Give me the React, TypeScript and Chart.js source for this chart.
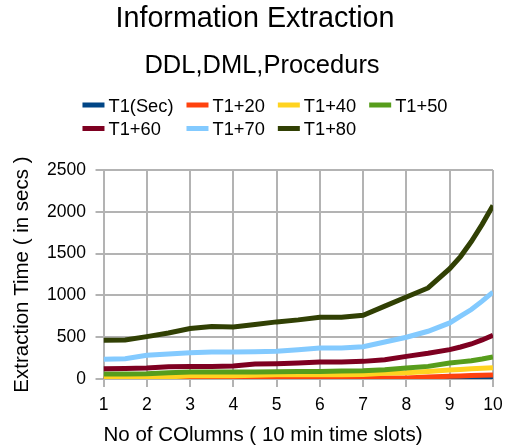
import React, { useEffect, useRef } from "react";
import { Chart, registerables } from "chart.js";

Chart.register(...registerables);

const chartTitle = "Information Extraction";
const chartSubtitle = "DDL,DML,Procedurs";
const xAxisTitle = "No of COlumns ( 10 min time slots)";
const yAxisTitle = "Extraction Time ( in secs )";

const timeSlots = [1, 1.5, 2, 2.5, 3, 3.5, 4, 4.5, 5, 5.5, 6, 6.5, 7, 7.5, 8, 8.5, 9, 9.25, 9.5, 9.75, 10];

const seriesNames = ["T1(Sec)", "T1+20", "T1+40", "T1+50", "T1+60", "T1+70", "T1+80"];
const seriesColors = ["#004586", "#ff420e", "#ffd320", "#579d1c", "#7e0021", "#83caff", "#314004"];

const t1Sec = [0, 0, 0, 0, 0, 0, 0, 0, 0, 0, 0, 0, 0, 0, 1, 1, 2, 2, 2, 3, 3];
const t1Plus20 = [2, 2, 2, 2, 10, 10, 10, 10, 12, 12, 12, 12, 12, 12, 14, 24, 34, 38, 42, 46, 50];
const t1Plus40 = [24, 24, 24, 26, 40, 40, 40, 46, 52, 52, 52, 52, 56, 70, 76, 92, 108, 116, 124, 130, 136];
const t1Plus50 = [60, 60, 64, 76, 84, 84, 84, 86, 88, 90, 92, 96, 100, 112, 132, 152, 192, 206, 220, 240, 266];
const t1Plus60 = [124, 128, 132, 148, 152, 152, 156, 180, 184, 192, 204, 204, 212, 232, 272, 308, 352, 384, 420, 468, 524];
const t1Plus70 = [236, 244, 284, 300, 316, 324, 324, 328, 332, 352, 372, 372, 388, 444, 500, 572, 672, 752, 832, 932, 1040];
const t1Plus80 = [464, 468, 508, 552, 604, 628, 624, 652, 684, 708, 740, 740, 764, 872, 982, 1090, 1320, 1465, 1645, 1850, 2075];

const seriesValues = [t1Sec, t1Plus20, t1Plus40, t1Plus50, t1Plus60, t1Plus70, t1Plus80];

const yTicksMax = 2500;
const yTickStep = 500;

const GRID = "#b3b3b3";
const FONT = "'Liberation Sans', Arial, Helvetica, sans-serif";

const headerPlugin = {
  id: "headerLegend",
  afterDraw(chart: any) {
    const ctx = chart.ctx as CanvasRenderingContext2D;
    const W = chart.width;
    ctx.save();
    ctx.fillStyle = "#000";
    ctx.textBaseline = "middle";
    ctx.textAlign = "center";
    ctx.font = `28.7px ${FONT}`;
    ctx.fillText(chartTitle, W / 2, 19.5);
    ctx.font = `25.5px ${FONT}`;
    ctx.fillText(chartSubtitle, W / 2 + 7, 65.7);

    // legend in a 4-column grid
    ctx.font = `18.3px ${FONT}`;
    const datasets = chart.data.datasets;
    const cols = 4;
    const boxW = 22;
    const boxH = 5;
    const gap = 4;
    const colGap = 13;
    const colW: number[] = [];
    for (let c = 0; c < cols; c++) {
      let m = 0;
      for (let i = c; i < datasets.length; i += cols) {
        m = Math.max(m, ctx.measureText(datasets[i].label).width);
      }
      colW.push(boxW + gap + m);
    }
    const total = colW.reduce((a, b) => a + b, 0) + colGap * (cols - 1);
    const startX = W / 2 + 10 - total / 2;
    const rowY = [106.5, 130];
    ctx.textAlign = "left";
    datasets.forEach((ds: any, i: number) => {
      const r = Math.floor(i / cols);
      const c = i % cols;
      let x = startX;
      for (let k = 0; k < c; k++) x += colW[k] + colGap;
      const y = rowY[r];
      ctx.fillStyle = ds.borderColor;
      ctx.fillRect(x, y - 1.5 - boxH / 2, boxW, boxH);
      ctx.fillStyle = "#000";
      ctx.fillText(ds.label, x + boxW + gap, y);
    });
    ctx.restore();
  },
};

export default function App() {
  const canvasRef = useRef<HTMLCanvasElement | null>(null);

  useEffect(() => {
    if (!canvasRef.current) return;
    Chart.defaults.font.family = FONT;
    const datasets = seriesNames.map((name, i) => ({
      label: name,
      data: timeSlots.map((x, j) => ({ x, y: seriesValues[i][j] })),
      borderColor: seriesColors[i],
      backgroundColor: seriesColors[i],
      borderWidth: 5,
      pointRadius: 0,
      tension: 0,
      fill: false,
      order: seriesNames.length - i,
    }));
    const chart = new Chart(canvasRef.current, {
      type: "line",
      data: { datasets },
      plugins: [headerPlugin],
      options: {
        responsive: false,
        animation: false,
        layout: { padding: { top: 170, left: 6.5, right: 17, bottom: 0 } },
        plugins: {
          legend: { display: false },
          title: { display: false },
          tooltip: { enabled: false },
        },
        scales: {
          x: {
            type: "linear",
            min: 1,
            max: 10,
            ticks: { stepSize: 1, color: "#000", font: { size: 17.5 }, padding: 7.3 },
            grid: { color: GRID, lineWidth: 2, tickLength: 8 },
            border: { color: GRID, width: 2 },
            title: {
              display: true,
              text: xAxisTitle,
              color: "#000",
              align: "start",
              font: { size: 20.5 },
              padding: { top: 0.7, bottom: 0 },
            },
          },
          y: {
            min: 0,
            max: yTicksMax,
            ticks: {
              stepSize: yTickStep,
              color: "#000",
              font: { size: 17.5 },
              padding: 9.5,
              callback: (v: any) => String(v),
            },
            grid: { color: GRID, lineWidth: 2, tickLength: 8 },
            border: { color: GRID, width: 2 },
            title: {
              display: true,
              text: yAxisTitle,
              color: "#000",
              font: { size: 20.5 },
              padding: { top: 4, bottom: 2.5 },
            },
          },
        },
      },
    });
    return () => chart.destroy();
  }, []);

  return (
    <div style={{ position: "absolute", left: 0, top: 0, width: 510, height: 448, background: "#fff" }}>
      <canvas ref={canvasRef} width={510} height={448} style={{ display: "block" }} />
    </div>
  );
}
